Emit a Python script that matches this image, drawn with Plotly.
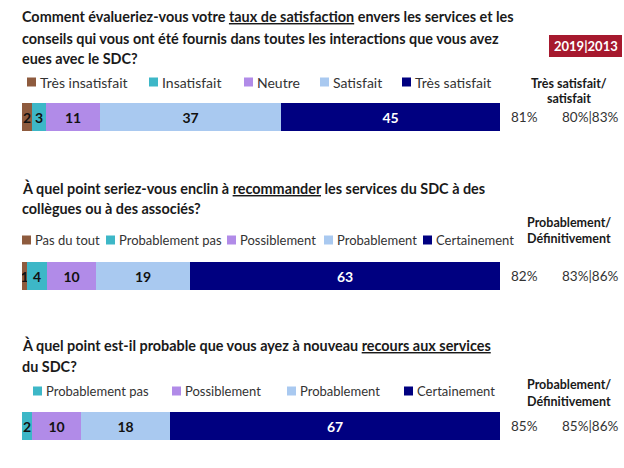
import plotly.graph_objects as go

W, H = 624, 468

# ---------------- data ----------------
q1_cats = ["Très insatisfait", "Insatisfait", "Neutre", "Satisfait", "Très satisfait"]
q1_vals = [2, 3, 11, 37, 45]
q2_cats = ["Pas du tout", "Probablement pas", "Possiblement", "Probablement", "Certainement"]
q2_vals = [1, 4, 10, 19, 63]
q3_cats = ["Probablement pas", "Possiblement", "Probablement", "Certainement"]
q3_vals = [2, 10, 18, 67]

top2_2023 = ["81%", "82%", "85%"]
top2_compare = ["80%|83%", "83%|86%", "85%|86%"]
summary_heads = [["Très satisfait/", "satisfait"],
                 ["Probablement/", "Définitivement"],
                 ["Probablement/", "Définitivement"]]
years_label = "2019|2013"

titles = [
    ["Comment évalueriez-vous votre <u>taux de satisfaction</u> envers les services et les",
     "conseils qui vous ont été fournis dans toutes les interactions que vous avez",
     "eues avec le SDC?"],
    ["À quel point seriez-vous enclin à <u>recommander</u> les services du SDC à des",
     "collègues ou à des associés?"],
    ["À quel point est-il probable que vous ayez à nouveau <u>recours aux services</u>",
     "du SDC?"],
]

# ---------------- style ----------------
BROWN, TEAL, LAV, LBLUE, NAVY = "#8E5B3E", "#3DB7C7", "#B18BE8", "#A9C9F0", "#000080"
q1_colors = [BROWN, TEAL, LAV, LBLUE, NAVY]
q2_colors = [BROWN, TEAL, LAV, LBLUE, NAVY]
q3_colors = [TEAL, LAV, LBLUE, NAVY]

FONT = "Lato"


def px(x):
    return x / W


def py(y):
    return 1 - y / H


questions = [
    dict(cats=q1_cats, vals=q1_vals, colors=q1_colors, bar=(103, 131),
         title_y=[17, 38, 58], legend_y=82, legend_sq=[27, 149, 244, 320, 402],
         legend_fs=14, head_y=[83, 98]),
    dict(cats=q2_cats, vals=q2_vals, colors=q2_colors, bar=(262, 290),
         title_y=[188, 209], legend_y=240, legend_sq=[22, 106, 227, 324, 423],
         legend_fs=13, head_y=[222, 239]),
    dict(cats=q3_cats, vals=q3_vals, colors=q3_colors, bar=(412, 440),
         title_y=[345, 366], legend_y=391, legend_sq=[33, 172, 287, 404],
         legend_fs=13, head_y=[384, 401]),
]

fig = go.Figure()
annotations = []
shapes = []

X0, X1 = 22, 500
for qi, q in enumerate(questions):
    sfx = "" if qi == 0 else str(qi + 1)
    for cat, v, c in zip(q["cats"], q["vals"], q["colors"]):
        tcol = "white" if c == NAVY else "#111111"
        fig.add_trace(go.Bar(
            x=[v], y=[0], orientation="h", name=cat,
            marker=dict(color=c, line=dict(width=0)),
            text=[str(v)], textposition="inside", insidetextanchor="middle",
            textangle=0, constraintext="none",
            textfont=dict(family=FONT, size=14, color=tcol, weight="bold"),
            xaxis="x" + sfx, yaxis="y" + sfx, showlegend=False,
            hoverinfo="skip", width=1,
        ))
    total = sum(q["vals"])
    b0, b1 = q["bar"]
    fig.update_layout(**{
        "xaxis" + sfx: dict(domain=[px(X0), px(X1)], range=[0, total], visible=False,
                            anchor="y" + sfx, fixedrange=True),
        "yaxis" + sfx: dict(domain=[py(b1), py(b0)], range=[-0.5, 0.5], visible=False,
                            anchor="x" + sfx, fixedrange=True),
    })

    # title lines
    for line, ty in zip(titles[qi], q["title_y"]):
        annotations.append(dict(
            text="<b>" + line + "</b>", x=px(20), y=py(ty), xref="paper", yref="paper",
            xanchor="left", yanchor="middle", showarrow=False,
            font=dict(family=FONT, size=14.4, color="#1a1a1a")))

    # custom legend
    ly = q["legend_y"]
    for cat, c, sx in zip(q["cats"], q["colors"], q["legend_sq"]):
        shapes.append(dict(type="rect", xref="paper", yref="paper",
                           x0=px(sx), x1=px(sx + 9), y0=py(ly + 4.5), y1=py(ly - 4.5),
                           fillcolor=c, line=dict(width=0)))
        annotations.append(dict(
            text=cat, x=px(sx + 11), y=py(ly), xref="paper", yref="paper",
            xanchor="left", yanchor="middle", showarrow=False,
            font=dict(family=FONT, size=q["legend_fs"], color="#333333")))

    # summary header
    for line, hy in zip(summary_heads[qi], q["head_y"]):
        annotations.append(dict(
            text="<b>" + line + "</b>", x=px(569), y=py(hy), xref="paper", yref="paper",
            xanchor="center", yanchor="middle", showarrow=False,
            font=dict(family=FONT, size=12.5, color="#1a1a1a")))

    # summary values
    my = (b0 + b1) / 2
    annotations.append(dict(
        text=top2_2023[qi], x=px(524), y=py(my), xref="paper", yref="paper",
        xanchor="center", yanchor="middle", showarrow=False,
        font=dict(family=FONT, size=13.5, color="#333333")))
    annotations.append(dict(
        text=top2_compare[qi], x=px(590), y=py(my), xref="paper", yref="paper",
        xanchor="center", yanchor="middle", showarrow=False,
        font=dict(family=FONT, size=13.5, color="#333333")))

# 2019|2013 box
shapes.append(dict(type="rect", xref="paper", yref="paper",
                   x0=px(549), x1=px(622), y0=py(57), y1=py(35),
                   fillcolor="#A6192E", line=dict(width=0)))
annotations.append(dict(
    text="<b>" + years_label + "</b>", x=px(586), y=py(46), xref="paper", yref="paper",
    xanchor="center", yanchor="middle", showarrow=False,
    font=dict(family=FONT, size=13, color="white")))

fig.update_layout(
    width=W, height=H, barmode="stack",
    margin=dict(l=0, r=0, t=0, b=0),
    paper_bgcolor="white", plot_bgcolor="white",
    showlegend=False, bargap=0,
    uniformtext=dict(minsize=14, mode="show"),
    annotations=annotations, shapes=shapes,
)

fig.write_html("out.html", config={"displayModeBar": False},
               post_script="document.body.style.margin='0px';document.body.style.padding='0px';")
